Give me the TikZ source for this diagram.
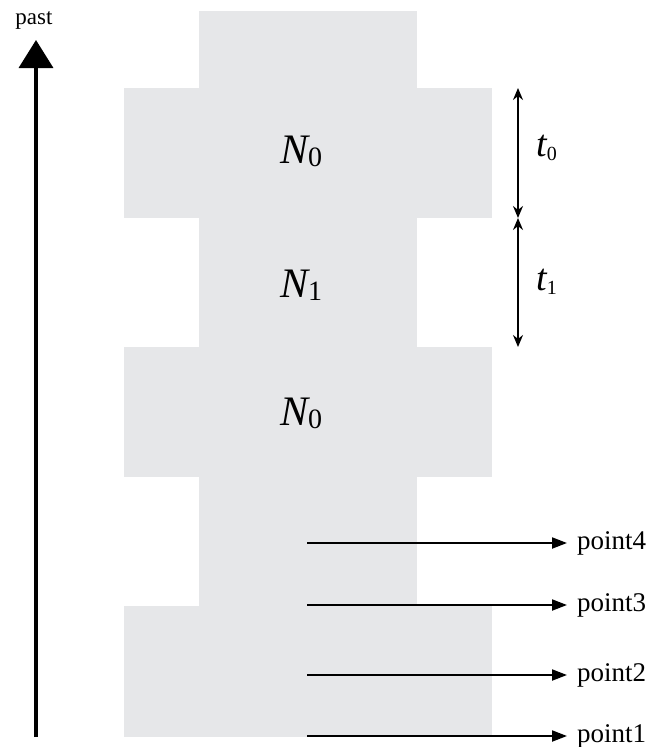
\documentclass[tikz,border=0pt]{standalone}
\usepackage{fontspec}
\setmainfont{Liberation Serif}
\usetikzlibrary{arrows.meta,positioning}

\definecolor{bandgray}{RGB}{230,231,233}

\newcommand{\popsize}[1]{{\fontsize{42}{44}\selectfont\itshape N}{\fontsize{28}{30}\selectfont\raisebox{-3pt}{#1}}}
\newcommand{\spanlen}[1]{{\fontsize{38}{40}\selectfont\itshape t}{\fontsize{20}{22}\selectfont\raisebox{-4pt}{#1}}}

\begin{document}
\begin{tikzpicture}[
      x=1pt, y=-1pt,
      band/.style={fill=bandgray},
      popnode/.style={anchor=base west, inner sep=0pt},
      timeline/.style={line width=3.5pt, -{Triangle[length=28pt,width=34pt]}},
      spanarrow/.style={line width=1.5pt, {Stealth[length=12pt,width=10pt]}-{Stealth[length=12pt,width=10pt]}},
      probe/.style={line width=2pt, -{Triangle[length=15pt,width=11pt]}},
      probelabel/.style={anchor=base west, inner sep=0pt, font=\fontsize{27}{30}\selectfont}
    ]
    \useasboundingbox (0,0) rectangle (663,747);

    % grey population history
    \fill[band] (199,11) rectangle (417,737);
    \fill[band] (124,88) rectangle (492,218);
    \fill[band] (124,347) rectangle (492,477);
    \fill[band] (124,606) rectangle (492,737);

    \node[popnode] (n0top) at (280,163) {\popsize{0}};
    \node[popnode] (n1)    at (280,297) {\popsize{1}};
    \node[popnode] (n0mid) at (280,425) {\popsize{0}};

    % time axis
    \coordinate (now) at (36,737);
    \coordinate (then) at (36,40);
    \draw[timeline] (now) -- (then);
    \node[inner sep=0pt, font=\fontsize{23}{26}\selectfont] (past) at (34,20) {past};

    % epoch lengths
    \coordinate (e0) at (518,88);
    \coordinate (e1) at (518,218);
    \coordinate (e2) at (518,347);
    \draw[spanarrow] (e0) -- (e1);
    \draw[spanarrow] (e1) -- (e2);
    \node[popnode] (t0) at (536,156) {\spanlen{0}};
    \node[popnode] (t1) at (536,290) {\spanlen{1}};

    % sampling points
    \foreach \k/\y in {4/543, 3/605, 2/675, 1/736} {
        \coordinate (s\k) at (307,\y);
        \node[probelabel] (p\k) at (577,\y+6) {point\k};
        \draw[probe] (s\k) -- (567,\y);
      }
  \end{tikzpicture}
\end{document}
